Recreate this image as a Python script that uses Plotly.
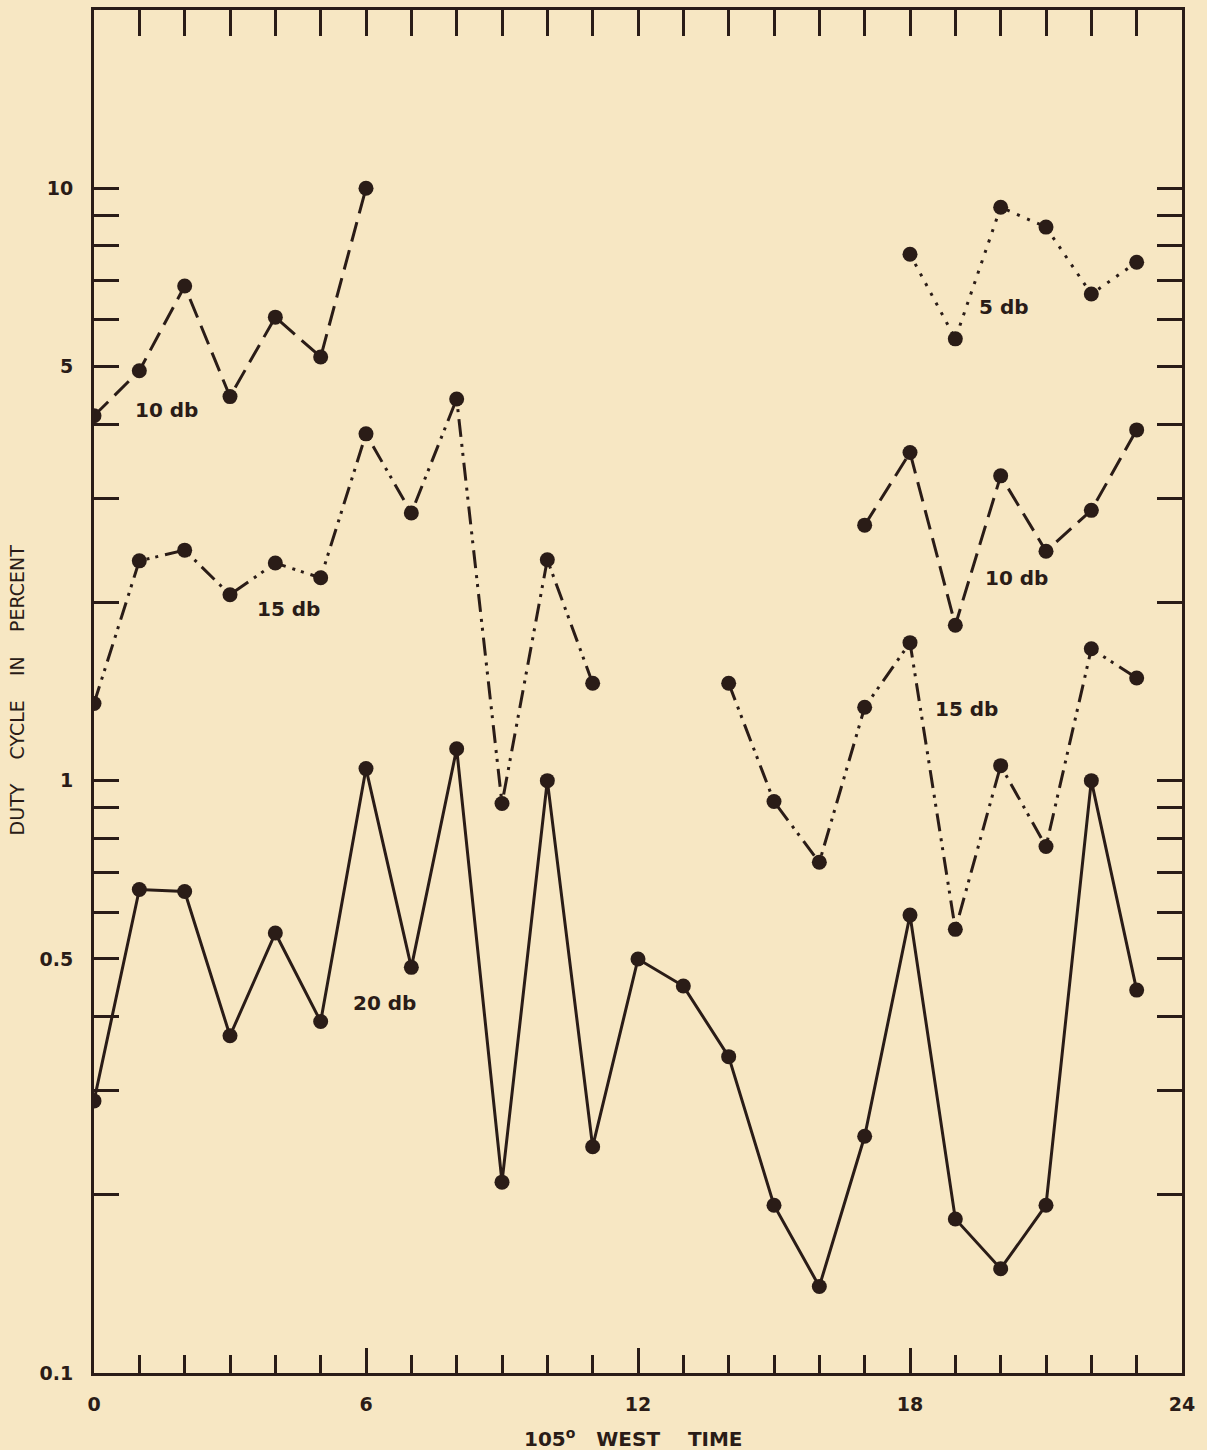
import math
import plotly.graph_objects as go

# Hours (105° West time) and duty cycle in percent for each threshold level
hours_all = list(range(24))
duty_20db = [0.288, 0.655, 0.650, 0.371, 0.553, 0.392, 1.048, 0.484, 1.132, 0.210,
             1.00, 0.241, 0.50, 0.450, 0.342, 0.192, 0.140, 0.251, 0.593, 0.182,
             0.150, 0.192, 1.00, 0.443]

hours_10db_a = [0, 1, 2, 3, 4, 5, 6]
duty_10db_a = [4.13, 4.92, 6.84, 4.45, 6.06, 5.19, 10.0]

hours_15db_a = list(range(12))
duty_15db_a = [1.35, 2.35, 2.45, 2.06, 2.33, 2.20, 3.85, 2.83, 4.41, 0.915, 2.36, 1.46]

hours_5db = [18, 19, 20, 21, 22, 23]
duty_5db = [7.74, 5.57, 9.29, 8.60, 6.63, 7.50]

hours_10db_b = [17, 18, 19, 20, 21, 22, 23]
duty_10db_b = [2.70, 3.58, 1.83, 3.27, 2.44, 2.86, 3.91]

hours_15db_b = list(range(14, 24))
duty_15db_b = [1.46, 0.922, 0.728, 1.33, 1.71, 0.561, 1.06, 0.774, 1.67, 1.49]

# Curve labels: (text, hour, duty cycle)
curve_labels = [
    ("10 db", 1.61, 4.22),
    ("15 db", 4.28, 1.95),
    ("20 db", 6.40, 0.421),
    ("5 db", 20.08, 6.31),
    ("10 db", 20.34, 2.20),
    ("15 db", 19.24, 1.32),
]

y_major = [0.1, 0.5, 1, 5, 10]
y_major_text = ["0.1", "0.5", "1", "5", "10"]
y_minor = [0.2, 0.3, 0.4, 0.6, 0.7, 0.8, 0.9, 2, 3, 4, 6, 7, 8, 9]
x_major = [0, 6, 12, 18, 24]

INK = "#2a1c17"
PAPER = "#f7e7c3"
FONT = "DejaVu Sans"

DASHED = "20px,9px"
DASH_DOT_DOT = "18px,7px,3px,6px,3px,7px"
DOTTED = "3px,8px"

fig = go.Figure()


def add_series(xs, ys, dash, xaxis="x"):
    fig.add_trace(go.Scatter(
        x=xs, y=ys, mode="lines+markers", xaxis=xaxis,
        line=dict(color=INK, width=3, dash=dash),
        marker=dict(color=INK, size=15),
        showlegend=False, hoverinfo="skip",
    ))


# The 20 db curve is bound to the top axis (same range) so that axis is drawn
add_series(hours_all, duty_20db, "solid", xaxis="x2")
add_series(hours_10db_a, duty_10db_a, DASHED)
add_series(hours_15db_a, duty_15db_a, DASH_DOT_DOT)
add_series(hours_5db, duty_5db, DOTTED)
add_series(hours_10db_b, duty_10db_b, DASHED)
add_series(hours_15db_b, duty_15db_b, DASH_DOT_DOT)

for text, hx, dv in curve_labels:
    fig.add_annotation(
        x=hx, y=math.log10(dv), text=text, showarrow=False,
        xanchor="center", yanchor="middle",
        font=dict(family=FONT, size=20, color=INK, weight="bold"),
    )

# Axis titles
fig.add_annotation(
    xref="paper", yref="paper", x=-0.0699, y=0.5015,
    text="DUTY    CYCLE    IN    PERCENT", textangle=-90, showarrow=False,
    xanchor="center", yanchor="middle",
    font=dict(family=FONT, size=19, color=INK),
)
fig.add_annotation(
    xref="paper", yref="paper", x=0.4955, y=-0.0475,
    text="105<sup>o</sup>   WEST    TIME", showarrow=False,
    xanchor="center", yanchor="middle",
    font=dict(family=FONT, size=20, color=INK, weight="bold"),
)

tick_font = dict(family=FONT, size=19, color=INK, weight="bold")

fig.update_layout(
    width=1207, height=1450,
    margin=dict(l=94, r=25, t=7, b=77),
    paper_bgcolor=PAPER, plot_bgcolor=PAPER,
    font=dict(family=FONT, size=19, color=INK),
    xaxis=dict(
        range=[0, 24], showgrid=False, zeroline=False,
        tickmode="array", tickvals=x_major, ticktext=[str(v) for v in x_major],
        tickfont=tick_font,
        ticks="inside", ticklen=25, tickwidth=3, tickcolor=INK,
        ticklabelstandoff=12,
        minor=dict(tickmode="linear", tick0=0, dtick=1, ticks="inside",
                   ticklen=18, tickwidth=2.5, tickcolor=INK, showgrid=False),
        showline=True, linewidth=3, linecolor=INK, mirror=True,
    ),
    xaxis2=dict(
        range=[0, 24], overlaying="x", side="top", anchor="y",
        showgrid=False, zeroline=False, showticklabels=False,
        tickmode="linear", tick0=0, dtick=1,
        ticks="inside", ticklen=26, tickwidth=2.5, tickcolor=INK,
        showline=True, linewidth=3, linecolor=INK,
    ),
    yaxis=dict(
        type="log", range=[-1, math.log10(20)], showgrid=False, zeroline=False,
        tickmode="array", tickvals=y_major, ticktext=y_major_text,
        tickfont=tick_font,
        ticks="inside", ticklen=25, tickwidth=3, tickcolor=INK,
        ticklabelstandoff=14,
        minor=dict(tickmode="array", tickvals=y_minor, ticks="inside",
                   ticklen=18, tickwidth=2.5, tickcolor=INK, showgrid=False),
        showline=True, linewidth=3, linecolor=INK, mirror="allticks",
    ),
)

fig.write_html("out.html")
